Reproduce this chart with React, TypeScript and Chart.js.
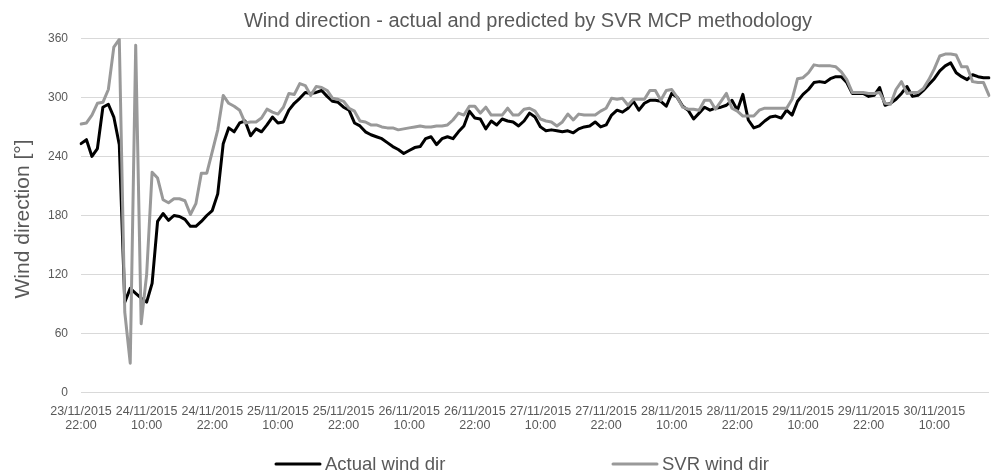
import React, { useEffect, useRef } from "react";
import { Chart, registerables } from "chart.js";

Chart.register(...registerables);

const TITLE = "Wind direction - actual and predicted by SVR MCP methodology";
const Y_TITLE = "Wind direction [°]";
const SERIES_NAMES = ["Actual wind dir", "SVR wind dir"];
const SERIES_COLORS = ["#000000", "#999999"];

// hourly categories, first one at 23/11/2015 22:00
const START_UTC = Date.UTC(2015, 10, 23, 22, 0);
const HOURS = 167;
const TICK_EVERY = 12;

const ACTUAL: number[] = [
  253, 257, 240, 248, 290, 293, 280, 252, 92, 106,
  101, 96, 92, 111, 174, 182, 175, 180, 179, 176,
  169, 169, 174, 180, 185, 202, 253, 269, 265, 274,
  276, 261, 268, 265, 272, 280, 274, 275, 287, 294,
  299, 305, 304, 305, 307, 301, 296, 295, 290, 287,
  274, 271, 265, 262, 260, 258, 254, 250, 247, 243,
  246, 249, 250, 258, 260, 252, 258, 260, 258, 265,
  271, 286, 279, 278, 268, 276, 272, 278, 276, 275,
  271, 276, 284, 280, 270, 266, 267, 266, 265, 266,
  264, 268, 270, 271, 275, 270, 272, 282, 287, 285,
  289, 296, 287, 294, 297, 297, 296, 291, 304, 300,
  291, 287, 278, 284, 290, 287, 289, 290, 292, 297,
  287, 303, 277, 269, 271, 276, 280, 281, 279, 287,
  282, 296, 303, 308, 315, 316, 315, 319, 321, 321,
  315, 304, 304, 304, 301, 302, 310, 292, 294, 298,
  304, 311, 301, 302, 307, 313, 319, 327, 332, 335,
  325, 321, 318, 323, 321, 320, 320,
];

const SVR: number[] = [
  273, 274, 282, 294, 295, 308, 351, 359, 82, 30,
  353, 70, 120, 224, 218, 196, 193, 197, 197, 195,
  181, 192, 223, 223, 245, 267, 302, 294, 291, 287,
  274, 275, 275, 279, 288, 285, 283, 290, 304, 303,
  314, 312, 302, 311, 310, 307, 299, 298, 296, 289,
  286, 276, 275, 272, 272, 270, 269, 269, 267, 268,
  269, 270, 271, 270, 270, 271, 271, 272, 277, 284,
  282, 291, 291, 284, 290, 282, 282, 282, 289, 282,
  282, 288, 289, 286, 278, 276, 275, 271, 275, 283,
  277, 283, 282, 282, 282, 286, 289, 299, 298, 299,
  292, 298, 298, 298, 307, 307, 297, 307, 308, 300,
  290, 288, 288, 287, 297, 297, 288, 296, 304, 289,
  286, 281, 281, 281, 287, 289, 289, 289, 289, 289,
  298, 319, 320, 325, 333, 332, 332, 332, 331, 326,
  318, 305, 305, 305, 304, 304, 305, 294, 293, 308,
  316, 304, 305, 305, 309, 318, 329, 342, 344, 344,
  343, 331, 331, 316, 315, 315, 302,
];

const Y_MIN = 0;
const Y_MAX = 360;
const Y_STEP = 60;

const pad = (n: number) => String(n).padStart(2, "0");
const CATEGORIES: string[] = Array.from({ length: HOURS }, (_, i) => {
  const d = new Date(START_UTC + i * 3600 * 1000);
  return `${pad(d.getUTCDate())}/${pad(d.getUTCMonth() + 1)}/${d.getUTCFullYear()} ${pad(
    d.getUTCHours()
  )}:${pad(d.getUTCMinutes())}`;
});

const FONT = "'Liberation Sans', Arial, sans-serif";
const TEXT = "#595959";

const textPlugin = {
  id: "titlesAndLegend",
  afterDraw(chart: any) {
    const ctx = chart.ctx as CanvasRenderingContext2D;
    ctx.save();
    ctx.fillStyle = TEXT;
    ctx.textBaseline = "middle";

    // chart title
    ctx.font = `20px ${FONT}`;
    ctx.textAlign = "center";
    ctx.fillText(TITLE, 528, 21);

    // y axis title
    ctx.save();
    ctx.translate(23, 219);
    ctx.rotate(-Math.PI / 2);
    ctx.font = `21px ${FONT}`;
    ctx.fillText(Y_TITLE, 0, 0);
    ctx.restore();

    // legend
    const y = 464;
    const starts = [276, 613];
    ctx.font = `18.5px ${FONT}`;
    ctx.textAlign = "left";
    chart.data.datasets.forEach((ds: any, i: number) => {
      const x0 = starts[i];
      ctx.strokeStyle = ds.borderColor;
      ctx.lineWidth = 3;
      ctx.lineCap = "round";
      ctx.beginPath();
      ctx.moveTo(x0, y);
      ctx.lineTo(x0 + 44, y);
      ctx.stroke();
      ctx.fillStyle = TEXT;
      ctx.fillText(ds.label, x0 + 49, y + 1);
    });
    ctx.restore();
  },
};

export default function App() {
  const canvasRef = useRef<HTMLCanvasElement | null>(null);

  useEffect(() => {
    if (!canvasRef.current) return;
    const chart = new Chart(canvasRef.current, {
      type: "line",
      data: {
        labels: CATEGORIES,
        datasets: [
          {
            label: SERIES_NAMES[0],
            data: ACTUAL,
            borderColor: SERIES_COLORS[0],
            backgroundColor: SERIES_COLORS[0],
            borderWidth: 3,
            pointRadius: 0,
            tension: 0,
            borderJoinStyle: "round",
            borderCapStyle: "round",
            order: 1,
          },
          {
            label: SERIES_NAMES[1],
            data: SVR,
            borderColor: SERIES_COLORS[1],
            backgroundColor: SERIES_COLORS[1],
            borderWidth: 3,
            pointRadius: 0,
            tension: 0,
            borderJoinStyle: "round",
            borderCapStyle: "round",
            order: 0,
          },
        ],
      },
      options: {
        responsive: false,
        animation: false,
        layout: { padding: { left: 0, right: 4, top: 38.3, bottom: 0 } },
        plugins: {
          legend: { display: false },
          tooltip: { enabled: false },
          title: { display: false },
        },
        scales: {
          x: {
            type: "category",
            offset: false,
            grid: { display: false, drawTicks: false },
            border: { display: false },
            ticks: {
              autoSkip: false,
              maxRotation: 0,
              minRotation: 0,
              padding: 12,
              color: TEXT,
              font: { family: FONT, size: 12.5, lineHeight: 1.12 },
              callback: (_v: any, index: number) =>
                index % TICK_EVERY === 0 ? CATEGORIES[index].split(" ") : null,
            },
            afterFit: (scale: any) => {
              scale.height = 79.3;
            },
          },
          y: {
            min: Y_MIN,
            max: Y_MAX,
            grid: { color: "#d9d9d9", lineWidth: 1, drawTicks: false },
            border: { display: false },
            ticks: {
              stepSize: Y_STEP,
              padding: 13,
              color: TEXT,
              font: { family: FONT, size: 12 },
            },
            afterFit: (scale: any) => {
              scale.width = 81;
            },
          },
        },
      } as any,
      plugins: [textPlugin],
    });
    return () => chart.destroy();
  }, []);

  return (
    <div style={{ position: "fixed", left: 0, top: 0, width: 993, height: 472, background: "#fff" }}>
      <canvas ref={canvasRef} width={993} height={472} style={{ display: "block" }} />
    </div>
  );
}
